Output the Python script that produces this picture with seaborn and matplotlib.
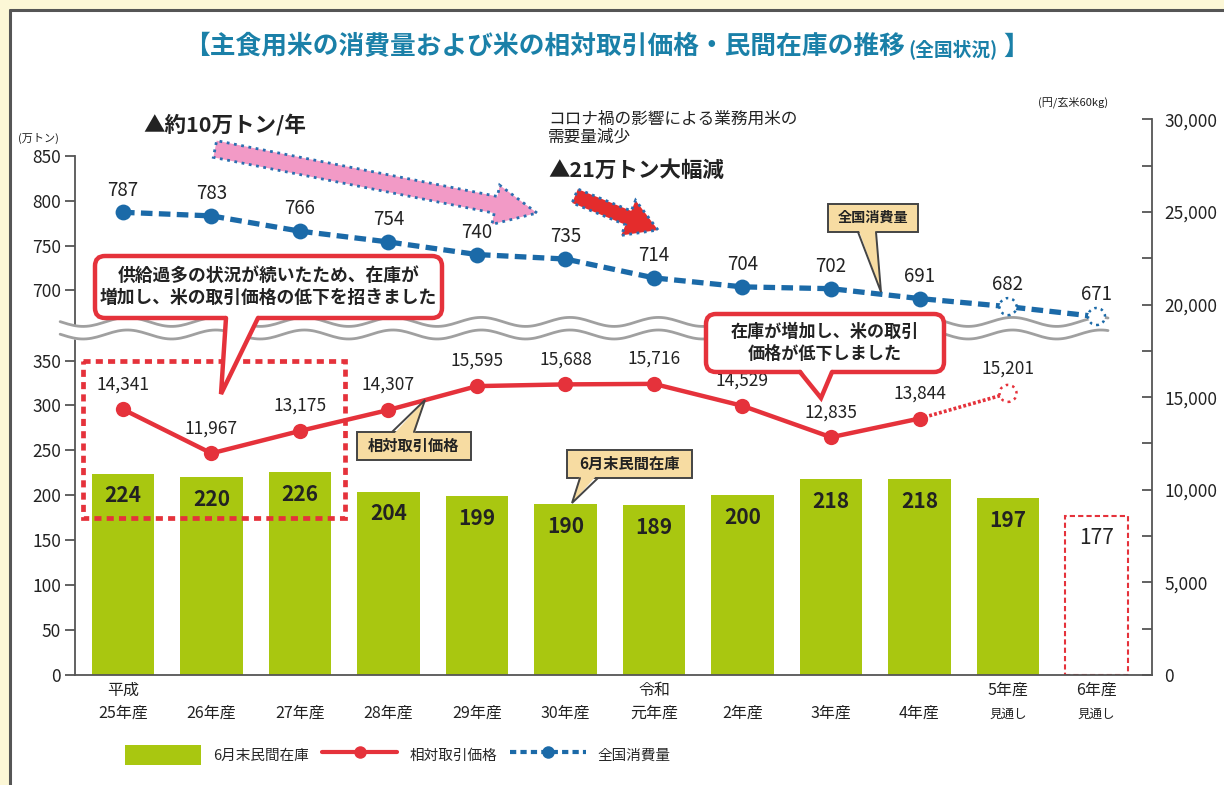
import numpy as np
import pandas as pd
import matplotlib
matplotlib.use('Agg')
import matplotlib.pyplot as plt
import matplotlib.transforms as mtransforms
from matplotlib.patches import Rectangle, FancyBboxPatch, FancyArrow, Polygon, Patch
from matplotlib.lines import Line2D
from matplotlib.ticker import FuncFormatter, MultipleLocator
import seaborn as sns

# ---------------- data ----------------
years = ['平成\n25年産', '\n26年産', '\n27年産', '\n28年産', '\n29年産', '\n30年産',
         '令和\n元年産', '\n2年産', '\n3年産', '\n4年産', '5年産', '6年産']
forecast_idx = [10, 11]
stock = [224, 220, 226, 204, 199, 190, 189, 200, 218, 218, 197, 177]           # 6月末民間在庫 (万トン)
price = [14341, 11967, 13175, 14307, 15595, 15688, 15716, 14529, 12835, 13844, 15201]  # 円/玄米60kg
consumption = [787, 783, 766, 754, 740, 735, 714, 704, 702, 691, 682, 671]      # 万トン

left_low_ticks = [0, 50, 100, 150, 200, 250, 300, 350]
left_high_ticks = [700, 750, 800, 850]

GREEN = '#a9c710'
RED = '#e5323b'
BLUE = '#1b6aa8'
TAN = '#f7dca2'
TITLE_BLUE = '#1a80a8'
GRID = '#555555'

BREAK_OFFSET = 272      # upper segment of the broken left axis is shifted down by this
PRICE_SCALE = 48.5      # right axis units per left-axis unit
YMAX = 640

sns.set_style('white')
plt.rcParams['font.family'] = ['Noto Sans CJK JP', 'DejaVu Sans']

fig = plt.figure(figsize=(12.24, 7.85), dpi=100)
fig.patch.set_facecolor('#fcf7d6')
# pixel coords, origin top-left
T = mtransforms.Affine2D().scale(0.01, -0.01).translate(0, 7.85) + fig.dpi_scale_trans

fig.add_artist(Rectangle((10, 10), 1214, 775, transform=T, fc='white', ec='none', zorder=-1))
fig.add_artist(Line2D([10, 10], [10, 785], transform=T, color='#555', lw=2.2))
fig.add_artist(Line2D([10, 1224], [10, 10], transform=T, color='#555', lw=2.2))

ax = fig.add_axes([75 / 1224, 1 - 675 / 785, (1152 - 75) / 1224, 575 / 785])
ax.patch.set_alpha(0)
idx = np.arange(len(years))

# ---------------- bars ----------------
df = pd.DataFrame({'idx': idx, 'stock': stock})
sns.barplot(data=df, x='idx', y='stock', color=GREEN, saturation=1, width=0.71,
            ax=ax, zorder=2)
for i, p in enumerate(ax.patches):
    p.set_edgecolor('none')
    if i == len(stock) - 1:
        p.set_facecolor('white')
        p.set_edgecolor(RED)
        p.set_linestyle((0, (2.5, 1.5)))
        p.set_linewidth(1.5)
for i, v in enumerate(stock):
    ax.annotate(str(v), xy=(i, v), xytext=(0, -16), textcoords='offset points',
                ha='center', va='center', fontsize=15,
                fontweight='bold' if i < len(stock) - 1 else 'normal', color='#222', zorder=6)

# ---------------- consumption (broken upper segment) ----------------
cons_disp = [v - BREAK_OFFSET for v in consumption]
sns.lineplot(x=idx, y=cons_disp, ax=ax, color=BLUE, lw=3.8,
             linestyle=(0, (2.2, 1.2)), legend=False, zorder=6)
solid = [i for i in idx if i not in forecast_idx]
sns.scatterplot(x=[idx[i] for i in solid], y=[cons_disp[i] for i in solid], ax=ax,
                color=BLUE, s=130, linewidth=0, zorder=7, legend=False)
ax.scatter([idx[i] for i in forecast_idx], [cons_disp[i] for i in forecast_idx], s=150,
           facecolors='white', edgecolors=BLUE, linewidths=1.8, linestyles=':', zorder=8)
for i, v in enumerate(consumption):
    ax.annotate(str(v), xy=(i, cons_disp[i]), xytext=(0, 16), textcoords='offset points',
                ha='center', va='center', fontsize=13.5, color='#222', zorder=8)

# wavy break band
xs = np.linspace(-0.71, 11.13, 400)
w1 = 393 + 5 * np.sin(2 * np.pi * (xs + 0.2))
w2 = 379 + 5 * np.sin(2 * np.pi * (xs + 0.2))
ax.fill_between(xs, w2 - 1, w1 + 1, color='white', zorder=4, clip_on=False, lw=0)
ax.plot(xs, w1, color='#a0a0a0', lw=2, zorder=5, clip_on=False)
ax.plot(xs, w2, color='#a0a0a0', lw=2, zorder=5, clip_on=False)

ax.set_xlim(-0.542, 11.627)
ax.set_ylim(0, YMAX)
ax.set_yticks(left_low_ticks + [v - BREAK_OFFSET for v in left_high_ticks])
ax.set_yticklabels([str(v) for v in left_low_ticks + left_high_ticks])
ax.set_xticks(idx)
ax.set_xticklabels(years)
for lab in ax.get_xticklabels():
    lab.set_linespacing(1.45)
ax.tick_params(axis='x', length=0, pad=5, labelsize=11.5, labelcolor='#222')
ax.tick_params(axis='y', direction='out', length=7, width=1.3, color=GRID,
               labelsize=12.5, pad=3, labelcolor='#222')
for i in forecast_idx:
    ax.annotate('見通し', xy=(i, 0), xycoords=('data', 'axes fraction'), xytext=(0, -28),
                textcoords='offset points', ha='center', va='center', fontsize=9, color='#222')
ax.set_xlabel('')
ax.set_ylabel('')
for s in ['top', 'right']:
    ax.spines[s].set_visible(False)
ax.spines['left'].set_bounds(0, left_high_ticks[-1] - BREAK_OFFSET)
for s in ['left', 'bottom']:
    ax.spines[s].set_color(GRID)
    ax.spines[s].set_linewidth(1.3)

# ---------------- price (right axis) ----------------
ax2 = ax.twinx()
solid_p = list(range(10))
sns.lineplot(x=idx[solid_p], y=[price[i] for i in solid_p], ax=ax2, color=RED, lw=3.2,
             marker='o', markersize=11, markeredgewidth=0, legend=False, zorder=5)
ax2.plot(idx[9:11], price[9:11], color=RED, lw=2.6, linestyle=(0, (0.8, 0.6)), zorder=4)
ax2.scatter([idx[10]], [price[10]], s=150, facecolors='white', edgecolors=RED,
            linewidths=1.8, linestyles=':', zorder=6)
for i, v in enumerate(price):
    ax2.annotate(f'{v:,}', xy=(i, v), xytext=(0, 18), textcoords='offset points',
                 ha='center', va='center', fontsize=12.5, color='#222', zorder=8)
ax2.set_ylim(0, YMAX * PRICE_SCALE)
ax2.set_yticks(list(range(0, 30001, 5000)))
ax2.yaxis.set_minor_locator(MultipleLocator(2500))
ax2.yaxis.set_major_formatter(FuncFormatter(lambda v, p: f'{int(v):,}'))
ax2.tick_params(axis='y', which='major', direction='in', length=7, width=1.3, color=GRID,
                labelsize=12.5, pad=9, labelcolor='#222')
ax2.tick_params(axis='y', which='minor', direction='in', length=7, width=1.3, color=GRID)
ax2.set_ylim(0, YMAX * PRICE_SCALE)
ax2.set_ylabel('')
for s in ['top', 'left', 'bottom']:
    ax2.spines[s].set_visible(False)
ax2.spines['right'].set_bounds(0, 30000)
ax2.spines['right'].set_color(GRID)
ax2.spines['right'].set_linewidth(1.3)

# ---------------- annotations (pixel coords) ----------------
def callout(x0, y0, x1, y1, base, tip, text, fc, ec, lw, fs, rounded, edge='bottom'):
    style = 'round,pad=0,rounding_size=10' if rounded else 'square,pad=0'
    fig.add_artist(FancyBboxPatch((x0, y0), x1 - x0, y1 - y0, boxstyle=style, transform=T,
                                  fc=fc, ec=ec, lw=lw, zorder=3))
    ye = y1 if edge == 'bottom' else y0
    inside = -4 if edge == 'bottom' else 4
    fig.add_artist(Polygon([(base[0], ye + inside), tip, (base[1], ye + inside)], closed=True,
                           transform=T, fc=fc, ec='none', zorder=3.1))
    fig.add_artist(Line2D([base[0], tip[0], base[1]], [ye, tip[1], ye], transform=T,
                          color=ec, lw=lw, zorder=3.2, solid_joinstyle='miter'))
    fig.text((x0 + x1) / 2, (y0 + y1) / 2, text, transform=T, ha='center', va='center',
             fontsize=fs, fontweight='bold', color='#222', linespacing=1.3, zorder=4)

callout(95, 256, 442, 318, (226, 258), (221, 394),
        '供給過多の状況が続いたため、在庫が\n増加し、米の取引価格の低下を招きました',
        'white', RED, 3.2, 12.8, True)
callout(706, 314, 944, 372, (800, 832), (821, 398),
        '在庫が増加し、米の取引\n価格が低下しました', 'white', RED, 3.2, 12.3, True)
callout(828, 204, 918, 232, (858, 876), (881, 292), '全国消費量', TAN, '#444', 1.4, 10.2, False)
callout(357, 432, 471, 460, (392, 414), (425, 400), '相対取引価格', TAN, '#444', 1.4, 11, False,
        edge='top')
callout(567, 450, 692, 478, (580, 598), (572, 503), '6月末民間在庫', TAN, '#444', 1.4, 11, False)

fig.add_artist(Rectangle((83, 361), 262, 157, transform=T, fill=False, ec=RED, lw=3.4,
                         ls=(0, (1.5, 1.1)), zorder=3))

fig.add_artist(FancyArrow(215, 149, 322, 64, width=17, head_width=40, head_length=42,
                          length_includes_head=True, transform=T, fc='#f29ac6',
                          ec='#2a6fb0', lw=2, ls=':', zorder=3))
fig.add_artist(FancyArrow(575, 196, 83, 34, width=15, head_width=38, head_length=32,
                          length_includes_head=True, transform=T, fc='#e42c2c',
                          ec='#2a6fb0', lw=2, ls=':', zorder=3))

fig.text(143, 125, '▲約10万トン/年', transform=T, ha='left', va='center', fontsize=15.5,
         fontweight='bold', color='#222')
fig.text(548, 128, 'コロナ禍の影響による業務用米の\n需要量減少', transform=T, ha='left',
         va='center', fontsize=12, color='#222', linespacing=1.05)
fig.text(548, 170, '▲21万トン大幅減', transform=T, ha='left', va='center', fontsize=15.5,
         fontweight='bold', color='#222')
fig.text(18, 138, '(万トン)', transform=T, ha='left', va='center', fontsize=8, color='#222')
fig.text(1038, 102, '(円/玄米60kg)', transform=T, ha='left', va='center', fontsize=8,
         color='#222')

# title
fig.text(905, 47, '【主食用米の消費量および米の相対取引価格・民間在庫の推移', transform=T,
         ha='right', va='center', fontsize=18.5, fontweight='bold', color=TITLE_BLUE)
fig.text(908, 49, '(全国状況)', transform=T, ha='left', va='center', fontsize=13.5,
         fontweight='bold', color=TITLE_BLUE)
fig.text(1003, 47, '】', transform=T, ha='left', va='center', fontsize=18.5,
         fontweight='bold', color=TITLE_BLUE)

# legend
handles = [Patch(facecolor=GREEN, edgecolor='none'),
           Line2D([], [], color=RED, lw=3, marker='o', ms=9, mew=0),
           Line2D([], [], color=BLUE, lw=3, ls=(0, (1.5, 1)), marker='o', ms=9, mew=0)]
fig.legend(handles, ['6月末民間在庫', '相対取引価格', '全国消費量'], loc='center left',
           bbox_to_anchor=(112 / 1224, 1 - 755 / 785), ncol=3, frameon=False,
           fontsize=10.5, handlelength=5.2, handleheight=1.8, columnspacing=0.9,
           handletextpad=0.8)

fig.savefig('out.png', dpi=100, facecolor=fig.get_facecolor())
